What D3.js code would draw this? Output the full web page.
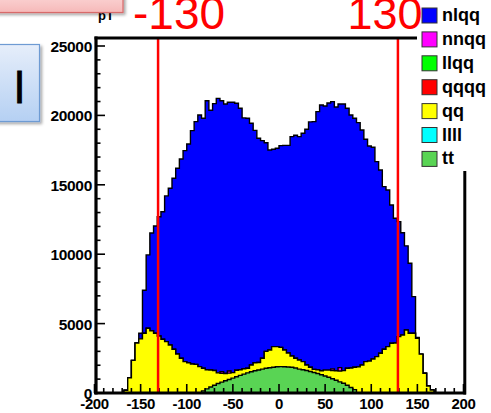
<!DOCTYPE html>
<html><head><meta charset="utf-8">
<script src="https://cdn.jsdelivr.net/npm/d3@7"></script>
<style>body{margin:0;background:#fff;overflow:hidden}svg{display:block}</style>
</head><body>
<svg id="c" width="491" height="413"></svg>
<script>
// ---------- data (bins of width 4 from -200 to 200) ----------
const binLow = d3.range(-200, 200, 4);
const xTicks = [-200, -150, -100, -50, 0, 50, 100, 150, 200];
const yTicks = [0, 5000, 10000, 15000, 20000, 25000];
const cutValues = [-130, 130];
const legendNames = ["nlqq", "nnqq", "llqq", "qqqq", "qq", "llll", "tt"];
const legendColors = ["#0000ff", "#ff00ff", "#00ff00", "#ff0000", "#ffff00", "#00ffff", "#59d454"];

const tt = [
 0,0,0,0,0,0,0,0,0,0, 0,0,0,0,0,0,0,0,0,0, 0,0,0,0,0,0,0,0,0,150,
 300,430,560,680,780,880,970,1070,1170,1270, 1360,1450,1530,1600,1660,1720,1780,1820,1860,1890,
 1900,1890,1870,1850,1800,1720,1680,1620,1550,1480, 1410,1320,1220,1130,1030,920,800,700,560,400,
 240,0,0,0,0,0,0,0,0,0, 0,0,0,0,0,0,0,0,0,0, 0,0,0,0,0,0,0,0,0,0];
const qq = [
 0,0,0,0,0,0,0,0,200,1100, 2350,3600,3900,4300,4660,4490,4300,4110,3870,3700,
 3460,3150,2810,2500,2260,2180,2090,2060,1900,1630, 1380,1230,1060,770,640,520,460,400,470,410,
 390,330,490,580,540,780,1220,1280,1480,1450, 1390,1210,1010,820,700,660,580,400,300,220,
 270,280,430,520,590,680,780,910,1220,1400, 1610,1880,2020,2260,2300,2450,2620,2860,3150,3340,
 3580,3600,4060,4180,4540,4300,4300,3940,2800,1420, 500,220,0,0,0,0,0,0,0,0];
const nnqq = [
 0,0,0,0,0,0,0,0,0,0, 0,0,0,0,0,0,0,0,0,0, 0,0,0,0,0,0,0,0,0,0,
 0,0,0,0,120,0,150,0,0,0, 0,0,0,0,0,0,0,0,0,0, 0,0,0,0,0,0,0,0,0,0,
 0,0,0,0,120,0,250,0,0,0, 0,0,0,0,0,0,0,0,0,0, 0,0,0,0,0,0,0,0,0,0, 0,0,0,0,0,0,0,0,0,0];
const nlqq = [
 0,0,0,0,0,0,0,0,0,0, 0,0,400,3100,5290,7040,7730,8590,9190,10500,
 11290,12320,13380,14360,15200,15760,16810,17490,18130,18020, 19380,18710,19230,19780,19520,19420,19370,19480,19230,18830,
 18070,18010,17410,16740,16150,15680,15030,14410,14220,14290, 14530,14740,14960,15800,16070,16090,16450,16980,17680,17850,
 18590,19150,19030,19240,19250,19000,18990,19210,18730,18230, 17940,17600,16930,16020,15500,15250,14050,13210,11720,11290,
 9970,8990,8290,7370,6060,5050,2640,60,0,0, 0,0,0,0,0,0,0,0,0,0];

// ---------- setup ----------
const svg = d3.select("#c");
const FONT = "'Liberation Sans', Arial, Helvetica, sans-serif";
const x = d3.scaleLinear().domain([-200, 200]).range([94.5, 463.5]);
const y = d3.scaleLinear().domain([0, 25000]).range([393, 46]);
const yTop = 38, yBot = 393;

const defs = svg.append("defs");
const sh = defs.append("filter").attr("id", "sh").attr("x", "-20%").attr("y", "-20%").attr("width", "150%").attr("height", "160%");
sh.append("feDropShadow").attr("dx", 2).attr("dy", 2).attr("stdDeviation", 1.5).attr("flood-color", "#000").attr("flood-opacity", 0.35);
const gb = defs.append("linearGradient").attr("id", "gb").attr("x1", 0).attr("y1", 0).attr("x2", 0).attr("y2", 1);
gb.append("stop").attr("offset", "0%").attr("stop-color", "#e6eefa");
gb.append("stop").attr("offset", "100%").attr("stop-color", "#b5d0f3");
const gp = defs.append("linearGradient").attr("id", "gp").attr("x1", 0).attr("y1", 0).attr("x2", 0).attr("y2", 1);
gp.append("stop").attr("offset", "0%").attr("stop-color", "#fbd5d5");
gp.append("stop").attr("offset", "100%").attr("stop-color", "#f6b9b9");

// ---------- stack ----------
const rows = binLow.map((b, i) => ({ b, tt: tt[i], qq: qq[i], nnqq: nnqq[i], nlqq: nlqq[i] }));
const keys = ["tt", "qq", "nnqq", "nlqq"];
const colorOf = { tt: "#59d454", qq: "#ffff00", nnqq: "#ff00ff", nlqq: "#0000ff" };
const stacked = d3.stack().keys(keys)(rows);

const area = d3.area().x(d => x(d[0])).y0(y(0)).y1(d => y(d[1]));
function pts(layer) {
  const p = [];
  layer.forEach((d, i) => { p.push([binLow[i], d[1]]); p.push([binLow[i] + 4, d[1]]); });
  return p;
}
const gh = svg.append("g");
stacked.slice().reverse().forEach(layer => {
  gh.append("path").attr("d", area(pts(layer)))
    .attr("fill", colorOf[layer.key]).attr("stroke", "#000").attr("stroke-width", 1.4)
    .attr("stroke-linejoin", "miter");
});

// ---------- ticks ----------
const ga = svg.append("g").attr("stroke", "#000");
d3.range(0, 25001, 1000).forEach(v => {
  const major = v % 5000 === 0;
  ga.append("line").attr("x1", 96).attr("x2", 96 + (major ? 9 : 4.5))
    .attr("y1", y(v)).attr("y2", y(v)).attr("stroke-width", 1.6);
});
d3.range(-200, 201, 10).forEach(v => {
  const major = v % 50 === 0;
  ga.append("line").attr("x1", x(v)).attr("x2", x(v))
    .attr("y1", yBot).attr("y2", yBot - (major ? 9 : 5)).attr("stroke-width", 1.6);
});

// cut lines
cutValues.forEach(c => {
  svg.append("line").attr("x1", x(c) - 1).attr("x2", x(c) - 1).attr("y1", yTop).attr("y2", yBot)
    .attr("stroke", "#ff0000").attr("stroke-width", 2.5);
});

// frame
svg.append("line").attr("x1", 96).attr("x2", 96).attr("y1", yTop - 1.5).attr("y2", yBot + 1.5).attr("stroke", "#000").attr("stroke-width", 3.2);
svg.append("line").attr("x1", 94.5).attr("x2", 466).attr("y1", yBot).attr("y2", yBot).attr("stroke", "#000").attr("stroke-width", 3.2);
svg.append("line").attr("x1", 94.5).attr("x2", 466).attr("y1", yTop).attr("y2", yTop).attr("stroke", "#000").attr("stroke-width", 3.2);
svg.append("line").attr("x1", 464.8).attr("x2", 464.8).attr("y1", yTop).attr("y2", yBot + 1.5).attr("stroke", "#000").attr("stroke-width", 3);

// tick labels
yTicks.forEach(v => {
  svg.append("text").attr("x", 92).attr("y", y(v) + 6).attr("text-anchor", "end")
    .attr("font-family", FONT).attr("font-weight", "bold").attr("font-size", 15.5)
    .attr("letter-spacing", -0.3).text(v);
});
xTicks.forEach(v => {
  svg.append("text").attr("x", x(v)).attr("y", 408.5).attr("text-anchor", "middle")
    .attr("font-family", FONT).attr("font-weight", "bold").attr("font-size", 15)
    .attr("letter-spacing", -0.4).text(v);
});

// ---------- legend ----------
svg.append("rect").attr("x", 417).attr("y", 0).attr("width", 80).attr("height", 171).attr("fill", "#fff");
legendNames.forEach((n, i) => {
  const cy = 15.5 + i * 23.9;
  svg.append("rect").attr("x", 422).attr("y", cy - 7.5).attr("width", 15).attr("height", 15)
    .attr("fill", legendColors[i]).attr("stroke", "#333").attr("stroke-width", 1);
  svg.append("text").attr("x", 442).attr("y", cy + 5.5).attr("font-family", FONT)
    .attr("font-weight", "bold").attr("font-size", 18).attr("fill", "#000").text(n);
});

// ---------- slide overlays ----------
svg.append("text").attr("x", 98).attr("y", 20).attr("font-family", FONT).attr("font-weight", "bold")
  .attr("font-size", 13).text("pT");
svg.append("rect").attr("x", -5).attr("y", -5).attr("width", 128).attr("height", 17.5)
  .attr("fill", "url(#gp)").attr("stroke", "#d86a6a").attr("stroke-width", 1.2).attr("filter", "url(#sh)");
svg.append("rect").attr("x", -5).attr("y", 44.5).attr("width", 44.5).attr("height", 77)
  .attr("fill", "url(#gb)").attr("stroke", "#6e9bd3").attr("stroke-width", 1.2).attr("filter", "url(#sh)");
svg.append("text").attr("x", 19.5).attr("y", 103).attr("text-anchor", "middle").attr("font-family", FONT)
  .attr("font-size", 45).attr("fill", "#000").attr("stroke", "#000").attr("stroke-width", 0.8).text("l");

svg.append("text").attr("x", 133).attr("y", 28.5).attr("font-family", FONT).attr("font-size", 46)
  .attr("fill", "#ff0000").text(cutValues[0]);
svg.append("text").attr("x", 347.5).attr("y", 28.5).attr("font-family", FONT).attr("font-size", 45)
  .attr("fill", "#ff0000").text(cutValues[1]);
</script>
</body></html>
